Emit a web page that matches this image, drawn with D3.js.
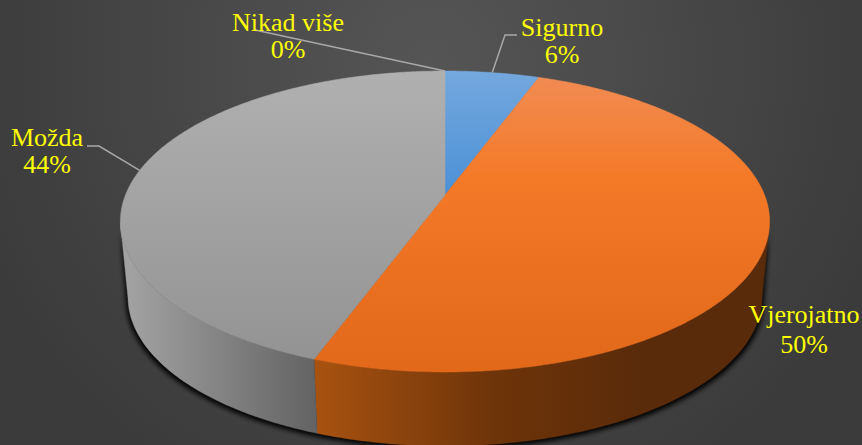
<!DOCTYPE html>
<html><head><meta charset="utf-8">
<style>html,body{margin:0;padding:0;background:#444;overflow:hidden}svg{display:block}text{font-family:"Liberation Serif",serif}</style>
<script src="https://cdn.jsdelivr.net/npm/d3@7/dist/d3.min.js"></script>
</head><body><svg id="c" width="862" height="445"></svg>
<script>
const categories = ["Sigurno","Vjerojatno","Možda","Nikad više"];
const values = [1,9,8,0];
const W=862,H=445;
const topStops = [
 [[0,"#74a8de"],[1,"#4b90d6"]],
 [[0,"#f18c55"],[0.35,"#f47a28"],[1,"#e2681a"]],
 [[0,"#b0b0b0"],[1,"#929292"]],
 [[0,"#b0b0b0"],[1,"#929292"]]];
const wallGrad = [
 {x1:445,x2:540,stops:[[0,"#3a6ea5"],[1,"#3a6ea5"]]},
 {x1:316,x2:640,stops:[[0,"#a85210"],[0.55,"#6e3409"],[1,"#5a2b0a"]]},
 {x1:316,x2:128,stops:[[0,"#636363"],[1,"#a2a2a2"]]},
 {x1:445,x2:446,stops:[[0,"#666"],[1,"#666"]]}];
const layout = {
 "Sigurno":{x:562,y1:36,y2:63,leader:[[505,35],[517,35]]},
 "Vjerojatno":{x:804,y1:323,y2:353,leader:null},
 "Možda":{x:47,y1:146,y2:173,leader:[[99,146],[87,146]]},
 "Nikad više":{x:288,y1:31,y2:58,leader:[[255,30]]}
};
const cx=445, yTop=71, yBot=372, yApex=195, rxTop=324.6, rxBase=317, cyTop=(yTop+yBot)/2, cyBase=297, ryScale=0.99;
// Perspective of the pie disc: homography from the unit circle to the picture
const c=((yTop+yBot)-2*yApex)/(yBot-yTop);
const a=yTop*(1+c)-yApex;
const k=rxTop*Math.sqrt(1-c*c);
const proj=t=>{const X=Math.sin(t),Y=Math.cos(t),d=1+c*Y;return [cx+k*X/d,(a*Y+yApex)/d];};
const base=p=>[cx+(p[0]-cx)*rxBase/rxTop,cyBase+(p[1]-cyTop)*ryScale];

const svg=d3.select("#c");
const defs=svg.append("defs");
const bg=defs.append("radialGradient").attr("id","bg").attr("gradientUnits","userSpaceOnUse")
 .attr("cx",430).attr("cy",60).attr("r",480);
bg.append("stop").attr("offset",0).attr("stop-color","#555555");
bg.append("stop").attr("offset",1).attr("stop-color","#3b3b3b");
defs.append("filter").attr("id","blur").attr("x","-10%").attr("y","-10%").attr("width","120%").attr("height","120%")
 .append("feGaussianBlur").attr("stdDeviation",2.6);
svg.append("rect").attr("width",W).attr("height",H).attr("fill","url(#bg)");

const pie=d3.pie().sort(null).startAngle(0).endAngle(2*Math.PI);
const arcs=pie(values);
const line=d3.line();
const samples=(s,e)=>{const n=Math.max(2,Math.ceil((e-s)/0.01));return d3.range(n+1).map(i=>s+(e-s)*i/n);};
const all=samples(0,2*Math.PI);

// contact shadow, only below the visible front wall
const front=all.filter(t=>proj(t)[1]>=cyTop).sort((p,q)=>proj(q)[0]-proj(p)[0]);
const frontPts=front.map(proj);
svg.append("path").attr("d",line(frontPts.map(base).map(p=>[p[0]+(p[0]<cx?-2:2),p[1]+3]).concat(frontPts.slice().reverse()))+"Z")
 .attr("fill","#000").attr("filter","url(#blur)");

arcs.forEach((d,i)=>{
 if(d.endAngle-d.startAngle<1e-6)return;
 const pts=samples(d.startAngle,d.endAngle).filter(t=>proj(t)[1]>=cyTop).map(proj);
 if(pts.length<2)return;
 const id="w"+i, w=wallGrad[i];
 const g=defs.append("linearGradient").attr("id",id).attr("gradientUnits","userSpaceOnUse")
  .attr("x1",w.x1).attr("x2",w.x2).attr("y1",0).attr("y2",0);
 w.stops.forEach(s=>g.append("stop").attr("offset",s[0]).attr("stop-color",s[1]));
 svg.append("path").attr("d",line(pts.concat(pts.slice().reverse().map(base)))+"Z")
  .attr("fill","url(#"+id+")").attr("stroke","url(#"+id+")").attr("stroke-width",.4);
});

arcs.forEach((d,i)=>{
 if(d.endAngle-d.startAngle<1e-6)return;
 const id="t"+i;
 const g=defs.append("linearGradient").attr("id",id).attr("gradientUnits","userSpaceOnUse")
  .attr("x1",0).attr("x2",0).attr("y1",yTop).attr("y2",i===0?yApex:yBot);
 topStops[i].forEach(s=>g.append("stop").attr("offset",s[0]).attr("stop-color",s[1]));
 svg.append("path").attr("d",line([[cx,yApex]].concat(samples(d.startAngle,d.endAngle).map(proj)))+"Z")
  .attr("fill","url(#"+id+")").attr("stroke","url(#"+id+")").attr("stroke-width",.5);
});

const total=d3.sum(values);
arcs.forEach((d,i)=>{
 const name=categories[i], L=layout[name];
 if(L.leader){
  const mid=(d.startAngle+d.endAngle)/2;
  svg.append("path").attr("d",line([proj(mid)].concat(L.leader))).attr("fill","none")
   .attr("stroke","#a8a8a8").attr("stroke-width",1.5);
 }
 const t=svg.append("g").attr("fill","#ffff00").attr("text-anchor","middle").attr("font-size",26);
 t.append("text").attr("x",L.x).attr("y",L.y1).text(name);
 t.append("text").attr("x",L.x).attr("y",L.y2).text(d3.format(".0%")(values[i]/total));
});
</script></body></html>
